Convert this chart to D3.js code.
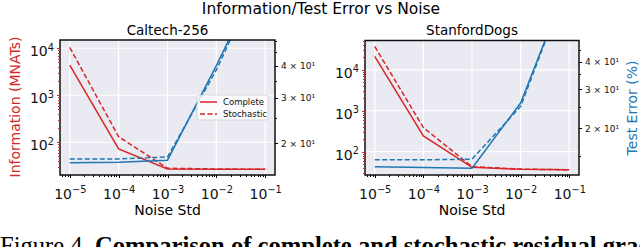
<!DOCTYPE html>
<html lang="en">
  <head>
    <meta charset="utf-8">
    <title>Information/Test Error vs Noise</title>
    <script type="text/javascript" src="https://cdn.jsdelivr.net/npm/d3@7"></script>
    <style>
      body { margin: 0; background: #fff; }
      svg { display: block; }
      text { font-family: "DejaVu Sans", sans-serif; }
      text.caption { font-family: "Liberation Serif", "Times New Roman", serif; }
      .axis path { display: none; }
      .axis line { shape-rendering: crispEdges; }
    </style>
  </head>
  <body>
    <script type="text/javascript">

      var w = 640;
      var h = 247;

      // data
      var noise = [1e-5, 1e-4, 1e-3, 1e-2, 1e-1];
      var xTicks = [1e-5, 1e-4, 1e-3, 1e-2, 1e-1];
      var infoTicks = [1e2, 1e3, 1e4];
      var errTicks = [20, 30, 40];

      var caltechInfoComplete   = [4400, 72, 27, 26.5, 26.5];
      var caltechInfoStochastic = [10400, 131, 28, 27, 26.5];
      var caltechErrComplete    = [16.8, 16.9, 17.2, 40, 99];
      var caltechErrStochastic  = [17.4, 17.4, 17.7, 38.5, 99];

      var dogsInfoComplete   = [21200, 243, 41.5, 37, 36];
      var dogsInfoStochastic = [37200, 388, 43, 37.5, 36];
      var dogsErrComplete    = [13.4, 13.3, 13.2, 26, 95];
      var dogsErrStochastic  = [14.4, 14.4, 14.5, 25.1, 95];

      var red = "#d62728";
      var blue = "#1f77b4";

      var svg = d3.select("body")
                  .append("svg")
                  .attr("width", w)
                  .attr("height", h);

      svg.append("text")
         .attr("x", 321)
         .attr("y", 14)
         .attr("text-anchor", "middle")
         .attr("font-size", "15.5px")
         .text("Information/Test Error vs Noise");

      var panels = [
        { title: "Caltech-256", x0: 60, x1: 275, y0: 40, y1: 175,
          infoDom: [20.1, 15000], errDom: [15.07, 50.3],
          infoC: caltechInfoComplete, infoS: caltechInfoStochastic,
          errC: caltechErrComplete, errS: caltechErrStochastic, legend: true },
        { title: "StanfordDogs", x0: 365, x1: 579, y0: 40.5, y1: 175,
          infoDom: [26.9, 52000], errDom: [12.3, 49.8],
          infoC: dogsInfoComplete, infoS: dogsInfoStochastic,
          errC: dogsErrComplete, errS: dogsErrStochastic, legend: false }
      ];

      function supLabel(sel, base, exp, size) {
        sel.text("");
        sel.append("tspan").text(base);
        sel.append("tspan")
           .attr("dy", -size * 0.42)
           .attr("font-size", (size * 0.7) + "px")
           .text(exp);
      }

      panels.forEach(function(p, i) {
        var g = svg.append("g");

        var x = d3.scaleLog().domain([Math.pow(10, -5.2), Math.pow(10, -0.8)]).range([p.x0, p.x1]);
        var yInfo = d3.scaleLog().domain(p.infoDom).range([p.y1, p.y0]);
        var yErr = d3.scaleLog().domain(p.errDom).range([p.y1, p.y0]);

        g.append("rect")
         .attr("x", p.x0).attr("y", p.y0)
         .attr("width", p.x1 - p.x0).attr("height", p.y1 - p.y0)
         .attr("fill", "#eaeaf2");

        // grid
        g.selectAll(".vgrid").data(xTicks).enter().append("line")
         .attr("x1", function(d) { return x(d); }).attr("x2", function(d) { return x(d); })
         .attr("y1", p.y0).attr("y2", p.y1)
         .attr("stroke", "#fff").attr("stroke-width", 1.2);
        g.selectAll(".hgrid").data(infoTicks).enter().append("line")
         .attr("x1", p.x0).attr("x2", p.x1)
         .attr("y1", function(d) { return yInfo(d); }).attr("y2", function(d) { return yInfo(d); })
         .attr("stroke", "#fff").attr("stroke-width", 1.2);

        var clipId = "clip" + i;
        svg.append("clipPath").attr("id", clipId)
           .append("rect")
           .attr("x", p.x0).attr("y", p.y0)
           .attr("width", p.x1 - p.x0).attr("height", p.y1 - p.y0);

        var lineInfo = d3.line().x(function(d, j) { return x(noise[j]); }).y(function(d) { return yInfo(d); });
        var lineErr = d3.line().x(function(d, j) { return x(noise[j]); }).y(function(d) { return yErr(d); });

        var lines = g.append("g").attr("clip-path", "url(#" + clipId + ")");
        lines.append("path").attr("d", lineInfo(p.infoC))
             .attr("fill", "none").attr("stroke", red).attr("stroke-width", 1.5);
        lines.append("path").attr("d", lineInfo(p.infoS))
             .attr("fill", "none").attr("stroke", red).attr("stroke-width", 1.5)
             .attr("stroke-dasharray", "5,2.5");
        lines.append("path").attr("d", lineErr(p.errC))
             .attr("fill", "none").attr("stroke", blue).attr("stroke-width", 1.5);
        lines.append("path").attr("d", lineErr(p.errS))
             .attr("fill", "none").attr("stroke", blue).attr("stroke-width", 1.5)
             .attr("stroke-dasharray", "5,2.5");

        // frame
        g.append("rect")
         .attr("x", p.x0).attr("y", p.y0)
         .attr("width", p.x1 - p.x0).attr("height", p.y1 - p.y0)
         .attr("fill", "none").attr("stroke", "#111").attr("stroke-width", 1.5);

        // bottom axis
        var xMinor = x.ticks().filter(function(d) { return xTicks.indexOf(d) < 0; });
        g.append("g").attr("class", "axis")
         .attr("transform", "translate(0," + p.y1 + ")")
         .call(d3.axisBottom(x).tickValues(xMinor).tickSize(1.5).tickFormat(""));
        var xa = g.append("g").attr("class", "axis")
         .attr("transform", "translate(0," + p.y1 + ")")
         .call(d3.axisBottom(x).tickValues(xTicks).tickSize(3).tickPadding(7));
        xa.selectAll("text")
          .attr("font-size", "14px").attr("fill", "#111").attr("dy", "1em")
          .each(function(d) {
            supLabel(d3.select(this), "10", "\u2212" + Math.round(-Math.log10(d)), 14);
          });

        // left axis
        var infoMinor = yInfo.ticks().filter(function(d) { return infoTicks.indexOf(d) < 0; });
        g.append("g").attr("class", "axis")
         .attr("transform", "translate(" + p.x0 + ",0)")
         .call(d3.axisLeft(yInfo).tickValues(infoMinor).tickSize(1.8).tickFormat(""))
         .selectAll("line").attr("stroke", red);
        var ya = g.append("g").attr("class", "axis")
         .attr("transform", "translate(" + p.x0 + ",0)")
         .call(d3.axisLeft(yInfo).tickValues(infoTicks).tickSize(3).tickPadding(3));
        ya.selectAll("line").attr("stroke", red);
        ya.selectAll("text")
          .attr("font-size", "14px").attr("fill", "#111").attr("dy", "0.55em")
          .each(function(d) {
            supLabel(d3.select(this), "10", String(Math.round(Math.log10(d))), 14);
          });

        // right axis
        var errMinor = yErr.ticks().filter(function(d) { return errTicks.indexOf(d) < 0; });
        g.append("g").attr("class", "axis")
         .attr("transform", "translate(" + p.x1 + ",0)")
         .call(d3.axisRight(yErr).tickValues(errMinor).tickSize(1.5).tickFormat(""));
        g.append("g").attr("class", "axis")
         .attr("transform", "translate(" + p.x1 + ",0)")
         .call(d3.axisRight(yErr).tickValues(errTicks).tickSize(3).tickPadding(3)
                 .tickFormat(function(d) { return (d / 10) + " \u00d7 10\u00b9"; }))
         .selectAll("text").attr("font-size", "9px").attr("fill", "#111");

        g.append("text")
         .attr("x", (p.x0 + p.x1) / 2)
         .attr("y", 34.5)
         .attr("text-anchor", "middle")
         .attr("font-size", "13.5px")
         .text(p.title);

        g.append("text")
         .attr("x", (p.x0 + p.x1) / 2)
         .attr("y", 215)
         .attr("text-anchor", "middle")
         .attr("font-size", "14px")
         .text("Noise Std");

        if (p.legend) {
          var lg = g.append("g").attr("transform", "translate(197,95)");
          lg.append("rect")
            .attr("width", 71).attr("height", 25).attr("rx", 2)
            .attr("fill", "#fff").attr("fill-opacity", 0.8)
            .attr("stroke", "#ccc").attr("stroke-width", 0.8);
          var items = [["Complete", null], ["Stochastic", "5,2.5"]];
          items.forEach(function(it, k) {
            var yy = 7 + k * 12;
            lg.append("line")
              .attr("x1", 3).attr("x2", 20).attr("y1", yy).attr("y2", yy)
              .attr("stroke", red).attr("stroke-width", 1.5)
              .attr("stroke-dasharray", it[1]);
            lg.append("text")
              .attr("x", 26).attr("y", yy + 3)
              .attr("font-size", "8.5px").attr("fill", "#111")
              .text(it[0]);
          });
        }
      });

      svg.append("text")
         .attr("transform", "translate(19.5,107) rotate(-90)")
         .attr("text-anchor", "middle")
         .attr("font-size", "14px")
         .attr("fill", red)
         .text("Information (MNATs)");

      svg.append("text")
         .attr("transform", "translate(637,108) rotate(-90)")
         .attr("text-anchor", "middle")
         .attr("font-size", "14px")
         .attr("fill", blue)
         .text("Test Error (%)");

      // caption is cut by the bottom edge, as in the reference
      var cap = svg.append("text")
         .attr("class", "caption")
         .attr("x", 0)
         .attr("y", 253.8)
         .attr("font-size", "24.6px")
         .attr("fill", "#000");
      cap.append("tspan").text("Figure 4. ");
      cap.append("tspan").attr("font-weight", "bold")
         .text("Comparison of complete and stochastic residual gradients");

    </script>
  </body>
</html>
